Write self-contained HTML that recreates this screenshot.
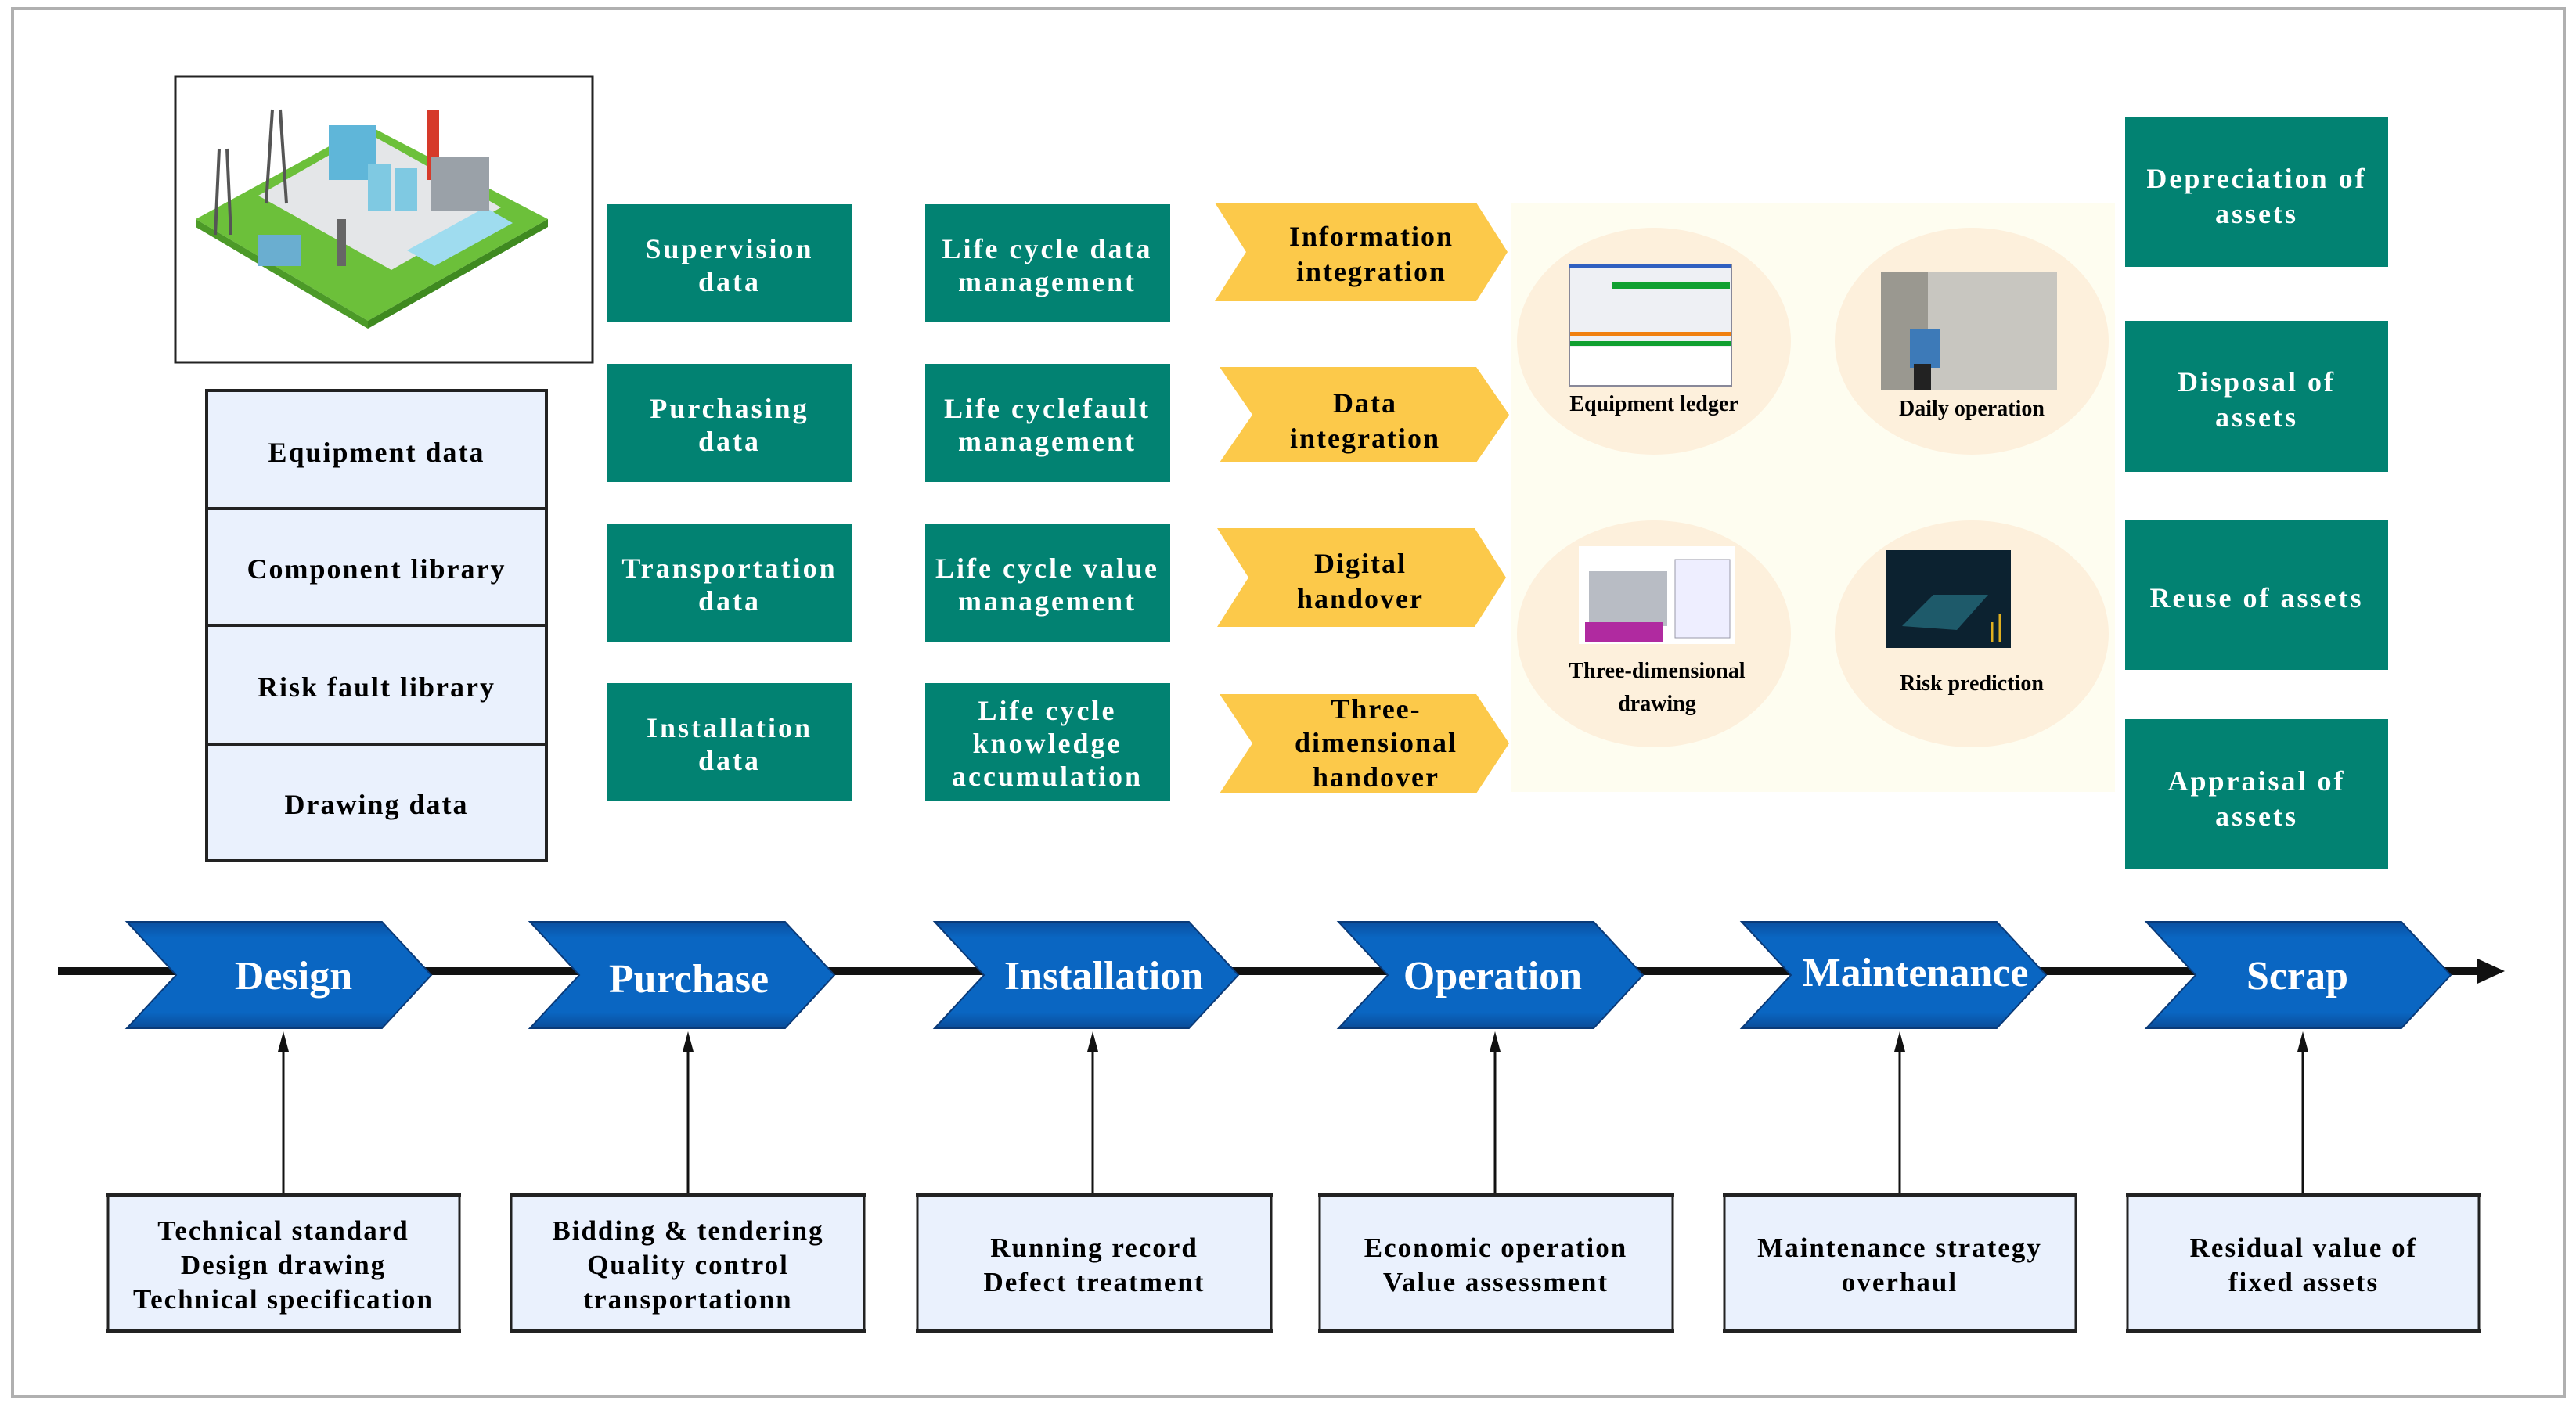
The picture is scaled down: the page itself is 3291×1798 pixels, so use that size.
<!DOCTYPE html>
<html><head><meta charset="utf-8"><style>
html,body{margin:0;padding:0;background:#fff}
svg{display:block}
text{font-family:"Liberation Serif",serif;font-weight:bold}
</style></head><body>
<svg width="3291" height="1798" viewBox="0 0 3291 1798" xmlns="http://www.w3.org/2000/svg">
<defs>
<linearGradient id="bl" x1="0" y1="0" x2="0" y2="1"><stop offset="0" stop-color="#0a4fa0"/><stop offset="0.15" stop-color="#0a66c2"/><stop offset="0.85" stop-color="#0a66c2"/><stop offset="1" stop-color="#0a4c98"/></linearGradient>
<marker id="ah" markerWidth="10" markerHeight="10" refX="5" refY="9" orient="auto" markerUnits="userSpaceOnUse"><path d="M0,0"/></marker>
</defs>
<rect x="0" y="0" width="3291" height="1798" fill="#fff"/>
<rect x="16" y="11" width="3260" height="1774" fill="none" stroke="#b0b0b0" stroke-width="4"/>

<!-- factory image -->
<rect x="224" y="98" width="533" height="365" fill="#fff" stroke="#222" stroke-width="3"/>
<polygon points="250,280 470,160 700,280 470,410" fill="#6cc03a"/>
<polygon points="250,280 470,410 470,420 250,290" fill="#4c9a28"/>
<polygon points="470,410 700,280 700,290 470,420" fill="#3f8a20"/>
<polygon points="330,250 470,170 640,265 500,345" fill="#e4e6e8"/>
<polygon points="520,320 620,265 655,285 555,340" fill="#9fdcef"/>
<rect x="420" y="160" width="60" height="70" fill="#5fb6d9"/>
<rect x="545" y="140" width="16" height="90" fill="#d63a2a"/>
<rect x="550" y="200" width="75" height="70" fill="#9aa1a8"/>
<rect x="470" y="210" width="30" height="60" fill="#7fc9e2"/>
<rect x="505" y="215" width="28" height="55" fill="#7fc9e2"/>
<rect x="330" y="300" width="55" height="40" fill="#6aaed0"/>
<path d="M280,190 L275,300 M290,190 L295,300 M348,140 L340,260 M358,140 L366,260" stroke="#555" stroke-width="4"/>
<rect x="430" y="280" width="12" height="60" fill="#666"/>

<!-- left table -->
<g stroke="#222" stroke-width="4" fill="#eaf1fd">
<rect x="264" y="499" width="434" height="151"/>
<rect x="264" y="650" width="434" height="149"/>
<rect x="264" y="799" width="434" height="152"/>
<rect x="264" y="951" width="434" height="149"/>
</g>
<g font-size="36" fill="#000" text-anchor="middle" letter-spacing="2">
<text x="481" y="590">Equipment data</text>
<text x="481" y="739">Component library</text>
<text x="481" y="890">Risk fault library</text>
<text x="481" y="1040">Drawing data</text>
</g>

<!-- green columns -->
<g fill="#028272">
<rect x="776" y="261" width="313" height="151"/><rect x="776" y="465" width="313" height="151"/>
<rect x="776" y="669" width="313" height="151"/><rect x="776" y="873" width="313" height="151"/>
<rect x="1182" y="261" width="313" height="151"/><rect x="1182" y="465" width="313" height="151"/>
<rect x="1182" y="669" width="313" height="151"/><rect x="1182" y="873" width="313" height="151"/>
<rect x="2715" y="149" width="336" height="192"/><rect x="2715" y="410" width="336" height="193"/>
<rect x="2715" y="665" width="336" height="191"/><rect x="2715" y="919" width="336" height="191"/>
</g>
<g font-size="36" fill="#fff" text-anchor="middle" letter-spacing="3">
<text x="932" y="330">Supervision</text><text x="932" y="372">data</text>
<text x="932" y="534">Purchasing</text><text x="932" y="576">data</text>
<text x="932" y="738">Transportation</text><text x="932" y="780">data</text>
<text x="932" y="942">Installation</text><text x="932" y="984">data</text>
<text x="1338" y="330">Life cycle data</text><text x="1338" y="372">management</text>
<text x="1338" y="534">Life cyclefault</text><text x="1338" y="576">management</text>
<text x="1338" y="738">Life cycle value</text><text x="1338" y="780">management</text>
<text x="1338" y="920">Life cycle</text><text x="1338" y="962">knowledge</text><text x="1338" y="1004">accumulation</text>
<text x="2883" y="240">Depreciation of</text><text x="2883" y="285">assets</text>
<text x="2883" y="500">Disposal of</text><text x="2883" y="545">assets</text>
<text x="2883" y="776">Reuse of assets</text>
<text x="2883" y="1010">Appraisal of</text><text x="2883" y="1055">assets</text>
</g>

<!-- beige panel -->
<rect x="1931" y="259" width="771" height="753" fill="#fefdf0"/>
<g fill="#fdf0dc">
<ellipse cx="2113" cy="436" rx="175" ry="145"/><ellipse cx="2519" cy="436" rx="175" ry="145"/>
<ellipse cx="2113" cy="810" rx="175" ry="145"/><ellipse cx="2519" cy="810" rx="175" ry="145"/>
</g>
<!-- ledger screenshot -->
<rect x="2005" y="338" width="207" height="155" fill="#eef0f4" stroke="#889" stroke-width="2"/>
<rect x="2005" y="338" width="207" height="5" fill="#3060c0"/>
<rect x="2060" y="360" width="150" height="9" fill="#10a030"/>
<rect x="2006" y="424" width="205" height="6" fill="#f08010"/>
<rect x="2006" y="436" width="205" height="6" fill="#10a030"/>
<rect x="2006" y="443" width="205" height="49" fill="#fff"/>
<!-- daily op photo -->
<rect x="2403" y="347" width="225" height="151" fill="#c8c6c0"/>
<rect x="2403" y="347" width="60" height="151" fill="#9a9890"/>
<rect x="2440" y="420" width="38" height="50" fill="#3d7ab8"/>
<rect x="2445" y="465" width="22" height="33" fill="#222"/>
<!-- 3d drawing -->
<rect x="2017" y="698" width="200" height="125" fill="#fff"/>
<rect x="2030" y="730" width="100" height="70" fill="#b8bcc4"/>
<rect x="2025" y="795" width="100" height="25" fill="#b02aa0"/>
<rect x="2140" y="715" width="70" height="100" fill="#eef" stroke="#99a" stroke-width="1"/>
<!-- risk screen -->
<rect x="2409" y="703" width="160" height="125" fill="#0c2230"/>
<polygon points="2430,800 2470,760 2540,760 2500,805" fill="#1e5a6a"/>
<g stroke="#e0b020" stroke-width="3"><line x1="2545" y1="820" x2="2545" y2="795"/><line x1="2555" y1="820" x2="2555" y2="785"/></g>
<g font-size="28" fill="#000" text-anchor="middle">
<text x="2113" y="525">Equipment ledger</text>
<text x="2519" y="531">Daily operation</text>
<text x="2117" y="866">Three-dimensional</text><text x="2117" y="908">drawing</text>
<text x="2519" y="882">Risk prediction</text>
</g>

<!-- yellow chevrons -->
<g fill="#fcc94a">
<polygon points="1552,259 1886,259 1926,322 1886,385 1552,385 1592,322"/>
<polygon points="1558,469 1886,469 1928,530 1886,591 1558,591 1600,530"/>
<polygon points="1555,675 1884,675 1924,738 1884,801 1555,801 1595,738"/>
<polygon points="1558,887 1886,887 1928,950 1886,1014 1558,1014 1600,950"/>
</g>
<g font-size="36" fill="#000" text-anchor="middle" letter-spacing="2">
<text x="1752" y="314">Information</text><text x="1752" y="359">integration</text>
<text x="1744" y="527">Data</text><text x="1744" y="572">integration</text>
<text x="1738" y="732">Digital</text><text x="1738" y="777">handover</text>
<text x="1758" y="918">Three-</text><text x="1758" y="961">dimensional</text><text x="1758" y="1005">handover</text>
</g>

<!-- timeline -->
<rect x="74" y="1236" width="3100" height="10" fill="#111"/>
<polygon points="3165,1225 3200,1241 3165,1257" fill="#111"/>
<g fill="url(#bl)" stroke="#0a3a78" stroke-width="2">
<polygon points="162,1178 488,1178 551,1246 488,1314 162,1314 225,1246"/>
<polygon points="677,1178 1003,1178 1066,1246 1003,1314 677,1314 740,1246"/>
<polygon points="1194,1178 1519,1178 1582,1246 1519,1314 1194,1314 1257,1246"/>
<polygon points="1710,1178 2036,1178 2099,1246 2036,1314 1710,1314 1773,1246"/>
<polygon points="2225,1178 2551,1178 2614,1246 2551,1314 2225,1314 2288,1246"/>
<polygon points="2742,1178 3068,1178 3131,1246 3068,1314 2742,1314 2805,1246"/>
</g>
<g font-size="52" fill="#fff" text-anchor="middle">
<text x="375" y="1264">Design</text>
<text x="880" y="1268">Purchase</text>
<text x="1410" y="1264">Installation</text>
<text x="1907" y="1264">Operation</text>
<text x="2447" y="1260">Maintenance</text>
<text x="2935" y="1264">Scrap</text>
</g>

<!-- vertical arrows -->
<g stroke="#111" stroke-width="3">
<line x1="362" y1="1527" x2="362" y2="1340"/><line x1="879" y1="1527" x2="879" y2="1340"/>
<line x1="1396" y1="1527" x2="1396" y2="1340"/><line x1="1910" y1="1527" x2="1910" y2="1340"/>
<line x1="2427" y1="1527" x2="2427" y2="1340"/><line x1="2942" y1="1527" x2="2942" y2="1340"/>
</g>
<g fill="#111">
<polygon points="355,1344 362,1318 369,1344"/><polygon points="872,1344 879,1318 886,1344"/>
<polygon points="1389,1344 1396,1318 1403,1344"/><polygon points="1903,1344 1910,1318 1917,1344"/>
<polygon points="2420,1344 2427,1318 2434,1344"/><polygon points="2935,1344 2942,1318 2949,1344"/>
</g>

<!-- bottom boxes -->
<g fill="#eaf1fd" stroke="#222" stroke-width="3">
<rect x="138" y="1528" width="449" height="173"/><rect x="653" y="1528" width="451" height="173"/>
<rect x="1172" y="1528" width="452" height="173"/><rect x="1686" y="1528" width="451" height="173"/>
<rect x="2203" y="1528" width="449" height="173"/><rect x="2718" y="1528" width="449" height="173"/>
</g>
<g fill="#222">
<rect x="136" y="1524" width="453" height="6"/><rect x="651" y="1524" width="455" height="6"/>
<rect x="1170" y="1524" width="456" height="6"/><rect x="1684" y="1524" width="455" height="6"/>
<rect x="2201" y="1524" width="453" height="6"/><rect x="2716" y="1524" width="453" height="6"/>
<rect x="136" y="1698" width="453" height="6"/><rect x="651" y="1698" width="455" height="6"/>
<rect x="1170" y="1698" width="456" height="6"/><rect x="1684" y="1698" width="455" height="6"/>
<rect x="2201" y="1698" width="453" height="6"/><rect x="2716" y="1698" width="453" height="6"/>
</g>
<g font-size="35" fill="#000" text-anchor="middle" letter-spacing="2" style="font-weight:normal">
<text x="362" y="1584">Technical standard</text><text x="362" y="1628">Design drawing</text><text x="362" y="1672">Technical specification</text>
<text x="879" y="1584">Bidding &amp; tendering</text><text x="879" y="1628">Quality control</text><text x="879" y="1672">transportationn</text>
<text x="1398" y="1606">Running record</text><text x="1398" y="1650">Defect treatment</text>
<text x="1911" y="1606">Economic operation</text><text x="1911" y="1650">Value assessment</text>
<text x="2427" y="1606">Maintenance strategy</text><text x="2427" y="1650">overhaul</text>
<text x="2943" y="1606">Residual value of</text><text x="2943" y="1650">fixed assets</text>
</g>
</svg>
</body></html>
